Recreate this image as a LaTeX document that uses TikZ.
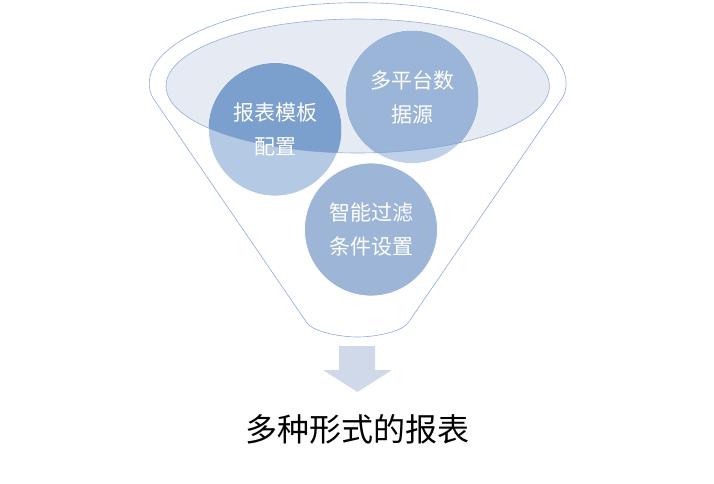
\documentclass[tikz,border=0pt]{standalone}
\usepackage{fontspec}
\newfontfamily\cjk{Noto Sans CJK SC}
\definecolor{funnelline}{HTML}{8FAADC}
\definecolor{ellfill}{HTML}{E5EAF3}
\definecolor{ellline}{HTML}{7F9FCF}
\definecolor{leftdark}{HTML}{7CA0CD}
\definecolor{leftlight}{HTML}{B4C9E3}
\definecolor{rightdark}{HTML}{9BB5D9}
\definecolor{rightlight}{HTML}{BFD0E9}
\definecolor{bottomfill}{HTML}{9DB6D8}
\definecolor{arrowfill}{HTML}{D0D9E9}
\tikzset{
  funnel/.style={draw=funnelline, line width=0.6pt, fill=white},
  bubble/.style={circle, minimum size=133pt, inner sep=0pt, draw=white, line width=0.8pt},
  bubbletext/.style={align=center, text=white, font=\cjk\fontsize{21}{34}\selectfont},
  resulttext/.style={font=\cjk\fontsize{32}{38}\selectfont, text=black}
}
\begin{document}
\begin{tikzpicture}[x=1pt,y=-1pt]
\useasboundingbox (0,0) rectangle (714,483);
% funnel outline
\path[funnel] (307,323) -- (153,98) .. controls (150,93) and (149.3,88) .. (149.3,83.3)
  arc[start angle=180, end angle=360, x radius=208.4, y radius=80.6]
  .. controls (566.1,88) and (565.3,93) .. (562.3,98) -- (408,323)
  .. controls (400,333) and (372,337) .. (357.7,337)
  .. controls (343,337) and (315,333) .. (307,323) -- cycle;
% inner ellipse
\fill[ellfill] (357.7,86) ellipse[x radius=191.7, y radius=67];
% circles (light parts)
\node[bubble, fill=leftlight] (tplbg) at (275,129.5) {};
\node[bubble, fill=rightlight] (srcbg) at (412,97) {};
% darker parts inside ellipse
\begin{scope}
  \clip (357.7,86) ellipse[x radius=191.7, y radius=67];
  \fill[leftdark] (275,129.5) circle[radius=66.5pt];
  \fill[rightdark] (412,97) circle[radius=66.5pt];
\end{scope}
\node[bubble, fill=bottomfill] (fltbg) at (371,229.5) {};
% ellipse border on top
\draw[ellline, line width=0.6pt, opacity=0.8] (357.7,86) ellipse[x radius=191.7, y radius=67];
% texts
\node[bubbletext] (tpl) at (tplbg.center) {报表模板\\配置};
\node[bubbletext] (src) at (srcbg.center) {多平台数\\据源};
\node[bubbletext] (flt) at (fltbg.center) {智能过滤\\条件设置};
% arrow
\fill[arrowfill] (339,346) -- (375,346) -- (375,370) -- (392,370) -- (357.5,392)
  -- (323,370) -- (339,370) -- cycle;
% result
\node[resulttext] (res) at (357.5,429) {多种形式的报表};
\end{tikzpicture}
\end{document}
